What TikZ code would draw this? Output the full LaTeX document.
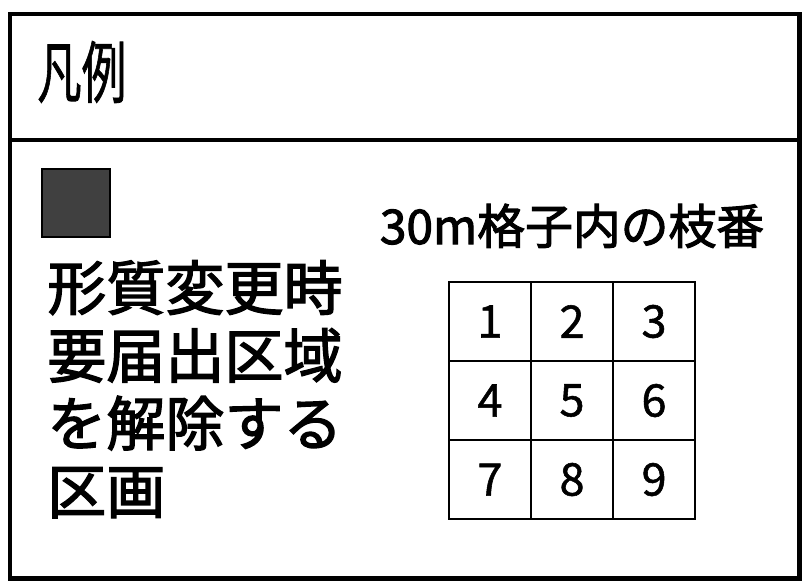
\documentclass[tikz,border=0pt]{standalone}
\usepackage{fontspec}
\newfontfamily\jpfont{Noto Sans CJK JP}
\newfontfamily\jpheavy{Noto Sans CJK JP}[FakeBold=2.2]
\newfontfamily\jpdigit{Noto Sans CJK JP}[FakeBold=1.2]
\usepackage{xcolor}
\colorlet{FRAMECOLOR}{black}
\colorlet{SWATCHCOLOR}{black!75}
\usepackage{tikz}
\usetikzlibrary{positioning}
\tikzset{
  frame-style/.style = {
    rectangle, draw=FRAMECOLOR, line width=3.5pt,
    inner sep=0pt, outer sep=0pt,
    minimum width=19.725cm
  },
  title-style/.style = {
    font=\jpdigit\fontsize{48}{48}\selectfont,
    inner sep=0pt, xscale=0.66
  },
  swatch-style/.style = {
    rectangle, draw=FRAMECOLOR, line width=1.5pt,
    fill=SWATCHCOLOR, minimum size=1.7cm, inner sep=0pt
  },
  body-style/.style = {
    font=\jpheavy\fontsize{42}{48.2}\selectfont,
    align=left, inner sep=0pt
  },
  caption-style/.style = {
    font=\jpheavy\fontsize{34}{34}\selectfont, inner sep=0pt
  },
  cell-style/.style = {
    rectangle, draw=FRAMECOLOR, line width=2pt,
    minimum width=2.05cm, minimum height=1.975cm,
    inner sep=0pt, outer sep=0pt,
    font=\jpdigit\fontsize{32}{32}\selectfont
  }
}
\newlength\cellDistance
\setlength\cellDistance{0pt}

\begin{document}
\begin{tikzpicture}[x=0.025cm, y=-0.025cm]
  \useasboundingbox (0,0) rectangle (805,581);

  % outer frame: header and body
  \node [frame-style, minimum height=3.15cm, anchor=north west] (head) at (10,14) {};
  \node [frame-style, minimum height=10.95cm, anchor=north] (body) at (head.south) {};

  \node [title-style, anchor=west] (title) at (37,72) {凡例};

  % left column
  \node [swatch-style] (swatch) at (76,203) {};
  \node [body-style, anchor=north west] (desc) at (47,260)
        {形質変更時\\要届出区域\\を解除する\\区画};

  % right column: numbering grid
  \node [cell-style, anchor=north west] (cell-1) at (449,282) {1};
  \node [cell-style, right=\cellDistance of cell-1] (cell-2) {2};
  \node [cell-style, right=\cellDistance of cell-2] (cell-3) {3};
  \foreach \n/\above in {4/1,5/2,6/3,7/4,8/5,9/6}
    \node [cell-style, below=\cellDistance of cell-\above] (cell-\n) {\n};

  \node [caption-style, above=24pt of cell-2] (caption) {30m格子内の枝番};
\end{tikzpicture}
\end{document}
